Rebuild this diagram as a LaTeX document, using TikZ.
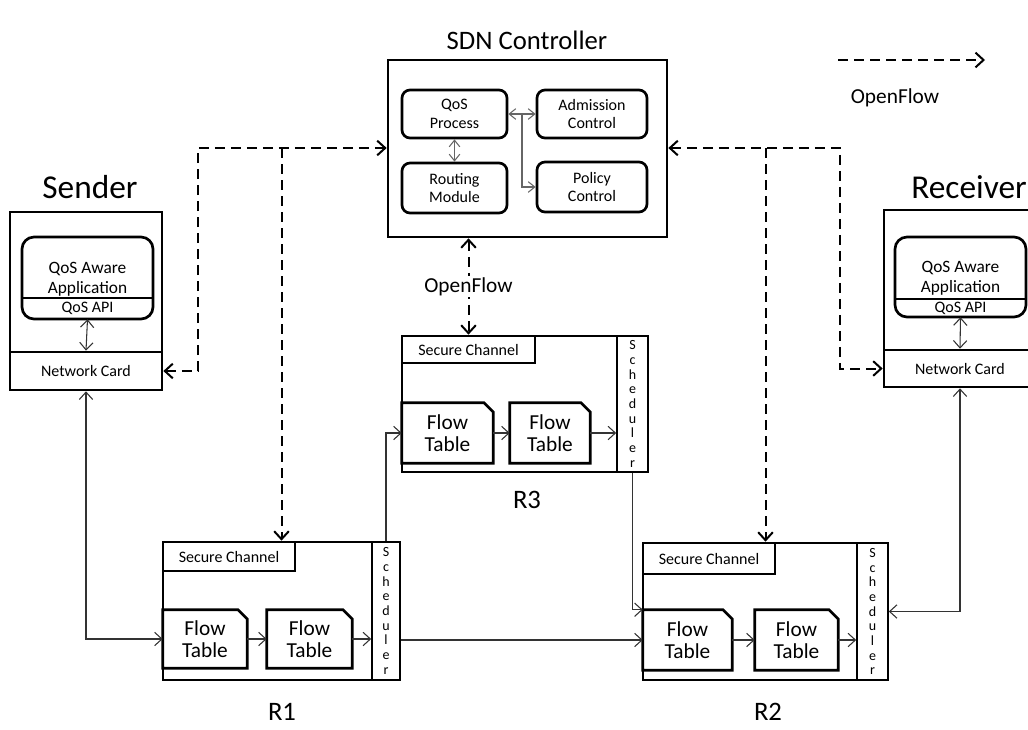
\documentclass[tikz,border=0pt]{standalone}
\usepackage{fontspec}
\setmainfont{Carlito}
\usetikzlibrary{calc,fit,arrows.meta}

\begin{document}
\begin{tikzpicture}[x=0.75pt,y=-0.75pt,
  >={Straight Barb[length=5.5pt,width=10pt]},
  box/.style={draw,line width=2pt,inner sep=0pt},
  mod/.style={box,rounded corners=6pt},
  txt/.style={label={[align=center,font=\fontsize{12}{14}\selectfont]center:#1}},
  ftab/.style={inner sep=0pt,label={[align=center,font=\fontsize{16}{17}\selectfont]center:Flow\\Table}},
  sched/.style={draw,line width=1.2pt,inner sep=0pt,
    label={[align=center,font=\fontsize{10.5}{11}\selectfont]center:S\\c\\h\\e\\d\\u\\l\\e\\r}},
  lnk/.style={line width=0.8pt,black!80},
  cin/.style={line width=0.8pt,gray!80!black,>={Straight Barb[length=5pt,width=8pt]}},
  ofl/.style={line width=1.5pt,dash pattern=on 7.5pt off 4.5pt,>={Straight Barb[length=6pt,width=11pt]}},
  title/.style={font=\fontsize{20}{22}\selectfont},
  host/.style={font=\fontsize{25}{27}\selectfont}]
  \clip (0,0) rectangle (1028,729);

  % controller
  \node[title] (ctltxt) at (527,40) {SDN Controller};
  \node[box,fit={(388,60) (667,237)}] (ctl) {};
  \node[mod,fit={(402,90) (507,138)},txt={QoS\\Process}] (qos) {};
  \node[mod,fit={(537,90) (647,138)},txt={Admission\\Control}] (adm) {};
  \node[mod,fit={(402,163) (507,213)},txt={Routing\\Module}] (rout) {};
  \node[mod,fit={(537,162) (647,212)},txt={Policy\\Control}] (pol) {};
  \draw[cin,<->] (qos.south) -- (rout.north);
  \draw[cin,<->] (qos.east) -- (adm.west);
  \coordinate (jn) at ($(qos.east)!0.5!(adm.west)$);
  \draw[cin,->] (jn) |- (pol.west);

  % sender
  \node[host] (sndtxt) at (90,187) {Sender};
  \node[box,fit={(10,212) (162,390)}] (snd) {};
  \node[mod,rounded corners=9pt,fit={(22,237) (153,319)}] (sapp) {};
  \node[align=center,font=\fontsize{13}{15}\selectfont] (sapptxt) at (87.5,279) {QoS Aware\\Application};
  \node[inner sep=0pt,fit={(22,298) (153,319)},txt={QoS API}] (sapi) {};
  \draw[line width=1.5pt] (sapi.north west) -- (sapi.north east);
  \node[box,fit={(10,352) (162,390)},txt={Network Card}] (snic) {};
  \draw[lnk,<->] (sapi.south) -- (snic.north);

  % receiver
  \node[host] (rcvtxt) at (969,187) {Receiver};
  \node[box,fit={(884,210) (1036,387)}] (rcv) {};
  \node[mod,rounded corners=9pt,fit={(895,237) (1026,317)}] (rapp) {};
  \node[align=center,font=\fontsize{13}{15}\selectfont] (rapptxt) at (960.5,278) {QoS Aware\\Application};
  \node[inner sep=0pt,fit={(895,299) (1026,317)},txt={QoS API}] (rapi) {};
  \draw[line width=1.5pt] (rapi.north west) -- (rapi.north east);
  \node[box,fit={(884,350) (1036,387)},txt={Network Card}] (rnic) {};
  \draw[lnk,<->] (rapi.south) -- (rnic.north);

  % switches
  \node[box,fit={(402,336) (648,472)}] (r3) {};
  \node[box,fit={(402,336) (535,363)},txt={Secure Channel}] (r3sc) {};
  \node[ftab,fit={(402,403) (493,463)}] (r3a) {};
  \node[ftab,fit={(510,403) (590,463)}] (r3b) {};
  \node[sched,fit={(617,336) (648,472)}] (r3s) {};
  \node[title] (r3lab) at (527,500) {R3};

  \node[box,fit={(163,542) (400,680)}] (r1) {};
  \node[box,fit={(163,542) (295,571)},txt={Secure Channel}] (r1sc) {};
  \node[ftab,fit={(163,610) (247,668)}] (r1a) {};
  \node[ftab,fit={(267,610) (352,668)}] (r1b) {};
  \node[sched,fit={(372,542) (400,680)}] (r1s) {};
  \node[title] (r1lab) at (282,712) {R1};

  \node[box,fit={(643,543) (888,680)}] (r2) {};
  \node[box,fit={(643,543) (775,574)},txt={Secure Channel}] (r2sc) {};
  \node[ftab,fit={(643,610) (732,670)}] (r2a) {};
  \node[ftab,fit={(755,610) (838,670)}] (r2b) {};
  \node[sched,fit={(857,543) (888,680)}] (r2s) {};
  \node[title] (r2lab) at (768,712) {R2};

  % flow tables with the cut corner
  \foreach \t in {r1a,r1b,r3a,r3b,r2a,r2b}
    \draw[line width=2pt] (\t.south west) -- (\t.north west) -- ([xshift=-7pt]\t.north east)
      -- ([yshift=-7pt]\t.north east) -- (\t.south east) -- cycle;

  % data path
  \draw[lnk,<->] (snic.south) |- (r1a.west);
  \foreach \a/\b in {r1a/r1b,r1b/r1s,r3a/r3b,r3b/r3s,r2a/r2b,r2b/r2s}
    \draw[lnk,->] (\a.east) -- (\a.east -| \b.west);
  \draw[lnk,->] (r1s.east |- r2a.west) -- (r2a.west);
  \draw[lnk,->] (r1s.north) |- (r3a.west);
  \draw[lnk,->] (r3s.south) |- (r2a.north west);
  \draw[lnk,<->] (rnic.south) |- (r2s.east);

  % openflow links
  \coordinate (lk) at (198,148);
  \coordinate (rk) at (840,148);
  \draw[ofl,<->] (snic.east) -| (lk) -- (ctl.west |- lk);
  \draw[ofl,->] (lk -| r1.north) -- (r1.north);
  \draw[ofl,<->] (ctl.east |- rk) -- (rk) |- (rnic.west);
  \draw[ofl,->] (rk -| r2.north) -- (r2.north);
  \draw[ofl,<->] (ctl.south -| r3sc.north) -- node[fill=white,inner sep=1pt,font=\fontsize{16}{17}\selectfont] (ofmid) {OpenFlow} (r3sc.north);

  % legend
  \coordinate (lga) at (838,60);
  \coordinate (lgb) at (985,60);
  \draw[ofl,->] (lga) -- (lgb);
  \node[font=\fontsize{16}{17}\selectfont] (lgtxt) at (895,98) {OpenFlow};
\end{tikzpicture}
\end{document}
